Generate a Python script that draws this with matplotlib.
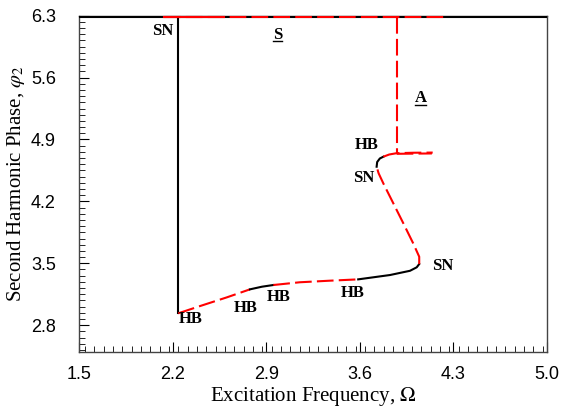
import numpy as np
import matplotlib
matplotlib.use("Agg")
import matplotlib.pyplot as plt
from matplotlib.ticker import MultipleLocator, FormatStrFormatter
from matplotlib.lines import Line2D

TOP = 2 * np.pi

# Top (symmetric) branch
top_black_x = [1.5, 5.0]
top_red_x = [2.13, 4.25]
top_red_solid_x = [2.13, 2.58]
sn_jump_x = 2.24
sn_jump_y = [TOP, 2.934]

# Asymmetric branch vertical
asym_x = 3.876
asym_y = [TOP, 4.745]

# Lower / S-shaped branch segments (stable: black solid, unstable: red dashed)
seg1_x = [2.240, 2.403, 2.603, 2.777]
seg1_y = [2.934, 3.016, 3.114, 3.205]
seg2_x = [2.777, 2.867, 2.952]
seg2_y = [3.205, 3.235, 3.254]
seg3_x = [2.952, 3.150, 3.376, 3.588]
seg3_y = [3.254, 3.285, 3.303, 3.318]
seg4_x = [3.588, 3.826, 3.976, 4.026, 4.045]
seg4_y = [3.318, 3.367, 3.415, 3.454, 3.491]
seg5_x = [4.045, 4.045, 4.000, 3.926, 3.851, 3.776, 3.741, 3.726]
seg5_y = [3.491, 3.574, 3.725, 3.952, 4.178, 4.404, 4.517, 4.592]
seg6_x = [3.726, 3.730, 3.750, 3.776]
seg6_y = [4.592, 4.645, 4.685, 4.705]
seg7_x = [3.776, 3.820, 3.876, 4.000, 4.146]
seg7_y = [4.705, 4.730, 4.745, 4.750, 4.752]
seg8_x = [3.876, 4.000, 4.140]
seg8_y = [4.738, 4.740, 4.742]

labels = [("SN", 2.123, 6.13), ("HB", 3.651, 4.837), ("SN", 3.626, 4.461),
          ("SN", 4.218, 3.469), ("HB", 2.333, 2.866), ("HB", 2.747, 2.99),
          ("HB", 2.989, 3.115), ("HB", 3.543, 3.167)]
branch_labels = [("S", 2.982, 6.082), ("A", 4.056, 5.366)]

plt.rcParams['mathtext.fontset'] = 'stix'
fig = plt.figure(figsize=(5.61, 4.12), dpi=100)
ax = fig.add_axes([0.1417, 0.1464, 0.9745 - 0.1417, 0.9619 - 0.1464])

red = '#ff0000'
lw = 1.5
dash = (8, 2.5)

ax.plot(top_black_x, [TOP, TOP], color='black', lw=lw, solid_capstyle='butt',
        clip_on=False, zorder=3)
ax.plot([sn_jump_x, sn_jump_x], sn_jump_y, color='black', lw=lw)
ax.plot(top_red_x, [TOP, TOP], color=red, lw=lw, dashes=dash, clip_on=False, zorder=4)
ax.plot(top_red_solid_x, [TOP, TOP], color=red, lw=lw, clip_on=False, zorder=4)
ax.plot([asym_x, asym_x], asym_y, color=red, lw=lw, dashes=dash)

for sx, sy, stable in [(seg1_x, seg1_y, False), (seg2_x, seg2_y, True),
                       (seg3_x, seg3_y, False), (seg4_x, seg4_y, True),
                       (seg5_x, seg5_y, False), (seg6_x, seg6_y, True),
                       (seg7_x, seg7_y, False), (seg8_x, seg8_y, False)]:
    if stable:
        ax.plot(sx, sy, color='black', lw=lw)
    else:
        ax.plot(sx, sy, color=red, lw=lw, dashes=dash)

for txt, x, y in labels:
    ax.text(x, y, txt, fontsize=12, fontweight='bold',
            family='Liberation Serif', ha='center', va='center')

btexts = []
for txt, x, y in branch_labels:
    btexts.append(ax.text(x, y, txt, fontsize=12, fontweight='bold',
                          family='Liberation Serif', ha='center', va='center'))

ax.set_xlim(1.5, 5.0)
ax.set_ylim(2.5, 6.3)
ax.set_xticks([1.5, 2.2, 2.9, 3.6, 4.3, 5.0])
ax.set_yticks([2.8, 3.5, 4.2, 4.9, 5.6, 6.3])
ax.xaxis.set_minor_locator(MultipleLocator(0.07))
ax.yaxis.set_minor_locator(MultipleLocator(0.07))
ax.tick_params(which='both', direction='in', top=False, right=False)
ax.tick_params(which='major', length=7.5, width=0.8, labelsize=13)
ax.tick_params(axis='x', which='major', pad=10)
ax.tick_params(axis='y', which='major', pad=17)
ax.tick_params(which='minor', length=4, width=0.6)
ax.xaxis.set_major_formatter(FormatStrFormatter('%.1f'))
ax.yaxis.set_major_formatter(FormatStrFormatter('%.1f'))
for lab in ax.get_xticklabels() + ax.get_yticklabels():
    lab.set_family('Liberation Sans')
for sp in ax.spines.values():
    sp.set_color('#444444')
    sp.set_linewidth(1.0)

ax.set_xlabel(r'Excitation Frequency, $\Omega$', family='Liberation Serif',
              fontsize=15, labelpad=2)
ax.set_ylabel(r'Second Harmonic Phase, $\varphi_2$', family='Liberation Serif',
              fontsize=15, labelpad=3)

# underline branch labels
fig.canvas.draw()
r = fig.canvas.get_renderer()
for t in btexts:
    bb = t.get_window_extent(renderer=r)
    y0 = bb.y0 + 1.5
    line = Line2D([bb.x0 + 0.5, bb.x1 - 0.5], [y0, y0], transform=None,
                  color='black', lw=1.0)
    fig.add_artist(line)

fig.savefig('out.png', dpi=100)
